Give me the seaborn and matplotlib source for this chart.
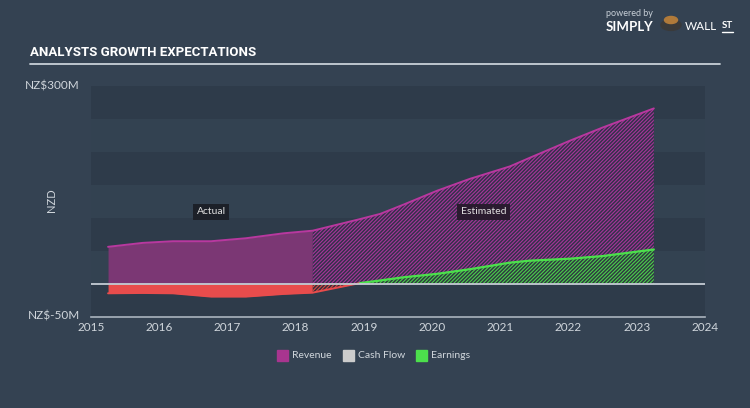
import matplotlib
matplotlib.use("Agg")
import matplotlib.pyplot as plt
from matplotlib.patches import Rectangle, Circle
import seaborn as sns
import pandas as pd

# ---- data (NZ$ millions) ----
actual_years = [2015.25, 2015.76, 2016.2, 2016.76, 2017.27, 2017.82, 2018.25]
actual_revenue = [56, 62, 64.5, 64.5, 69, 76.5, 80.5]
actual_earnings = [-14.5, -14, -14.5, -19.5, -19.5, -15.5, -13.5]

est_years = [2018.25, 2018.94, 2019.24, 2019.58, 2020.07, 2020.55, 2021.14, 2021.43, 2022.02, 2022.5, 2023.25]
est_revenue = [80.5, 98, 106, 120, 141, 159, 178, 191, 217, 237, 266]
est_earnings = [-13.5, 1, 5, 9.8, 15, 22, 32, 35, 38, 42, 52]

x_ticks = [2015, 2016, 2017, 2018, 2019, 2020, 2021, 2022, 2023, 2024]
y_min, y_max = -50, 300
legend_labels = ["Revenue", "Cash Flow", "Earnings"]

# ---- style ----
BG = "#344252"
BAND_DARK = "#2e3b4a"
BAND_LIGHT = "#334251"
REV_FILL = "#7b3774"
REV_LINE = "#b8389f"
EARN_NEG = "#e84c4c"
EARN_POS = "#4ce04c"
TXT = "#d0d6dc"

sns.set_style("dark")
plt.rcParams["font.family"] = ["Lato", "DejaVu Sans"]
plt.rcParams["hatch.linewidth"] = 0.8

fig = plt.figure(figsize=(7.5, 4.08), dpi=100, facecolor=BG)
ax = fig.add_axes([91 / 750, (408 - 316.7) / 408, 614 / 750, 230.7 / 408])
ax.set_facecolor(BAND_DARK)
ax.set_xlim(2015, 2024)
ax.set_ylim(y_min, y_max)

# horizontal bands
for i, lo in enumerate(range(y_min, y_max, 50)):
    col = BAND_DARK if i % 2 == 0 else BAND_LIGHT
    ax.axhspan(lo, lo + 50, color=col, lw=0, zorder=0)

# actual fills
ax.fill_between(actual_years, 0, actual_revenue, color=REV_FILL, lw=0, zorder=2)
ax.fill_between(actual_years, 0, actual_earnings, color=EARN_NEG, lw=0, zorder=2)

# estimated hatched fills
HATCH = "/" * 9
ax.fill_between(est_years, 0, est_revenue, facecolor="#33304a", edgecolor="#a8359a",
                hatch=HATCH, lw=0, zorder=2)
est_pos = [max(v, 0) for v in est_earnings]
est_neg = [min(v, 0) for v in est_earnings]
ax.fill_between(est_years, 0, est_pos, facecolor="#2e3a40", edgecolor="#4cd04c",
                hatch=HATCH, lw=0, zorder=3)
ax.fill_between(est_years, 0, est_neg, facecolor="#333038", edgecolor="#d84848",
                hatch=HATCH, lw=0, zorder=3)

# lines via seaborn
rev_df = pd.DataFrame({"year": actual_years + est_years[1:],
                       "value": actual_revenue + est_revenue[1:]})
earn_df = pd.DataFrame({"year": actual_years + est_years[1:],
                        "value": actual_earnings + est_earnings[1:]})
sns.lineplot(data=rev_df, x="year", y="value", color=REV_LINE, lw=1.4, ax=ax, zorder=4)
sns.lineplot(data=earn_df.iloc[:8], x="year", y="value", color=EARN_NEG, lw=1.4, ax=ax, zorder=4)
sns.lineplot(data=earn_df.iloc[7:], x="year", y="value", color=EARN_POS, lw=1.6, ax=ax, zorder=4)

# zero line
ax.axhline(0, color="#c5ccd4", lw=1.3, zorder=5)

# axes styling
ax.grid(False)
for s in ["top", "right", "left"]:
    ax.spines[s].set_visible(False)
ax.spines["bottom"].set_color("#aab4be")
ax.spines["bottom"].set_linewidth(1.2)
ax.set_xticks(x_ticks)
ax.set_xticklabels([str(t) for t in x_ticks], color=TXT, fontsize=8.5)
ax.tick_params(axis="x", direction="in", length=5, color="#aab4be", pad=4, width=1)
ax.set_yticks([])
ax.set_xlabel("")
ax.set_ylabel("")

# y labels
fig.text(80 / 750, 1 - 86 / 408, "NZ$300M", color=TXT, fontsize=8.5, ha="right", va="center")
fig.text(80 / 750, 1 - 316 / 408, "NZ$-50M", color=TXT, fontsize=8.5, ha="right", va="center")
fig.text(52 / 750, 1 - 200 / 408, "NZD", color=TXT, fontsize=8, ha="center", va="center", rotation=90)

# annotations
ax.text(2016.76, 109, "Actual", color="#e0e0e0", fontsize=7.5, ha="center", va="center",
        bbox=dict(boxstyle="square,pad=0.35", fc="#1c2028", ec="none"), zorder=6)
ax.text(2020.75, 109, "Estimated", color="#e0e0e0", fontsize=7.5, ha="center", va="center",
        bbox=dict(boxstyle="square,pad=0.35", fc="#2a1b2f", ec="none"), zorder=6)

# title and rule
fig.text(30 / 750, 1 - 53 / 408, "ANALYSTS GROWTH EXPECTATIONS", color="white", fontsize=9.5,
         fontweight="bold", ha="left", va="center", family=["Roboto", "DejaVu Sans"])
fig.add_artist(plt.Line2D([30 / 750, 720 / 750], [1 - 63.5 / 408] * 2, color="#c8d0d8",
                          lw=1.3, transform=fig.transFigure))

# brand
fig.text(606 / 750, 1 - 14 / 408, "powered by", color="#c8d0d8", fontsize=6.5, ha="left", va="center")
fig.text(606 / 750, 1 - 27 / 408, "SIMPLY", color="white", fontsize=9.5, fontweight="bold",
         ha="left", va="center")
fig.add_artist(Circle((671 / 750, 1 - 25 / 408), 10 / 750, color="#3a3a3a",
                      transform=fig.transFigure))
fig.add_artist(Circle((671 / 750, 1 - 20 / 408), 6.5 / 750, color="#b07a3a",
                      transform=fig.transFigure))
fig.text(685 / 750, 1 - 27 / 408, "WALL", color="white", fontsize=8.5, ha="left", va="center")
fig.text(722 / 750, 1 - 26 / 408, "ST", color="white", fontsize=7, fontweight="bold",
         ha="left", va="center")
fig.add_artist(plt.Line2D([722 / 750, 733 / 750], [1 - 32 / 408] * 2, color="white",
                          lw=1, transform=fig.transFigure))

# legend
leg_items = [(277, legend_labels[0], "#a8358f"), (343, legend_labels[1], "#cccccc"),
             (416, legend_labels[2], EARN_POS)]
for x, lab, c in leg_items:
    fig.add_artist(Rectangle((x / 750, 1 - 361 / 408), 11 / 750, 11 / 408, color=c,
                             transform=fig.transFigure))
    fig.text((x + 15) / 750, 1 - 356 / 408, lab, color=TXT, fontsize=7.5, ha="left", va="center")

fig.savefig("out.png", dpi=100, facecolor=BG)
